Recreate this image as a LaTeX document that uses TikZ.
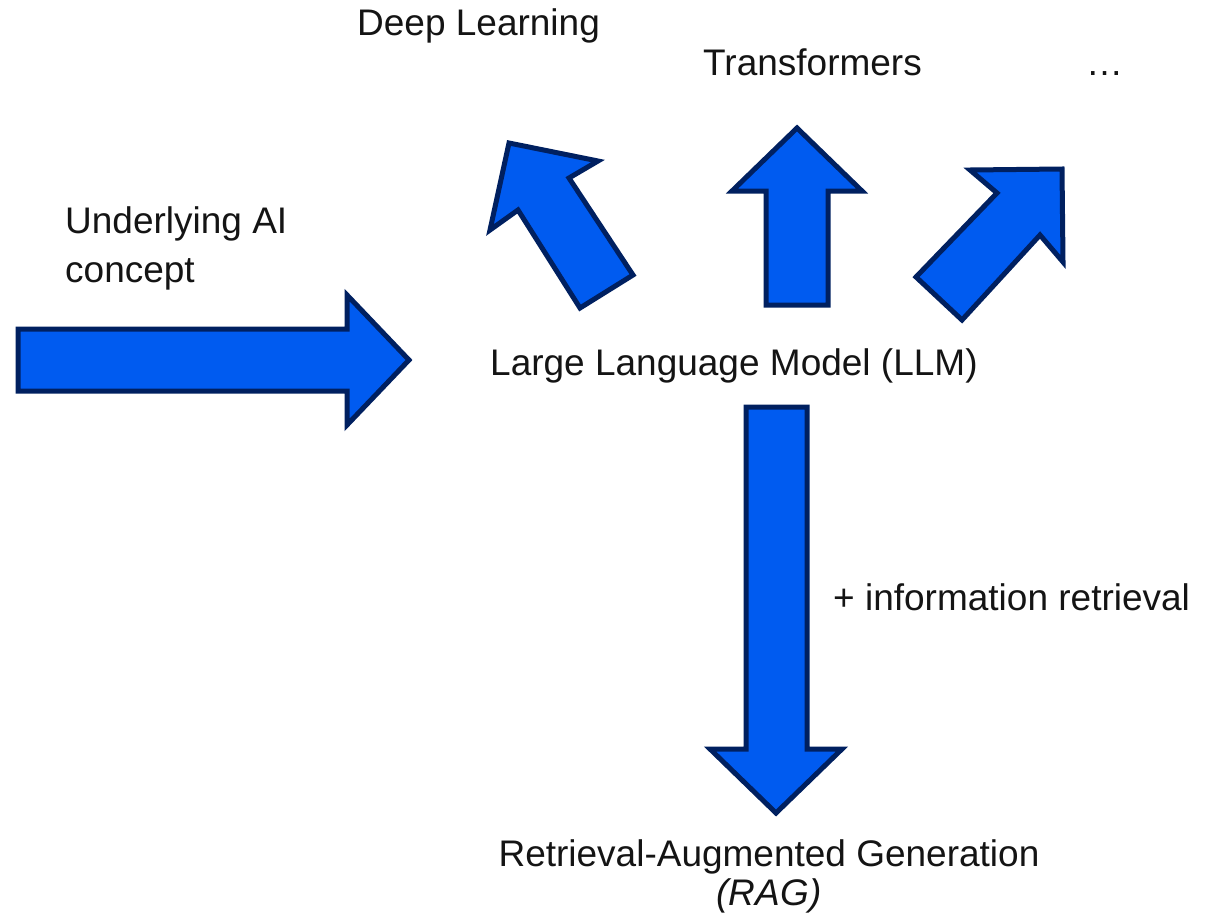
\documentclass[tikz,border=0pt]{standalone}
\usepackage{fontspec}
\setmainfont{Liberation Sans}
\definecolor{arrowfill}{RGB}{0,91,240}
\definecolor{arrowline}{RGB}{0,32,96}
\definecolor{txt}{RGB}{20,20,20}
\begin{document}
\begin{tikzpicture}[x=1pt,y=-1pt,
  bigarrow/.style={fill=arrowfill,draw=arrowline,line width=5pt,line join=miter},
  lbl/.style={inner sep=0pt,anchor=base west,font=\fontsize{37pt}{49pt}\selectfont,text=txt},
  clbl/.style={lbl,anchor=base}]
\useasboundingbox (0,0) rectangle (1222,921);
% arrows
\draw[bigarrow] (18,329) -- (347,329) -- (347,295) -- (409,360) -- (347,425) -- (347,391) -- (18,391) -- cycle;
\draw[bigarrow] (509,143) -- (598,161) -- (569,178) -- (633,275) -- (580,308) -- (518,210) -- (490,230) -- cycle;
\draw[bigarrow] (797,128) -- (862,191) -- (828,191) -- (828,305) -- (766,305) -- (766,191) -- (732,191) -- cycle;
\draw[bigarrow] (1062,169) -- (1063,262) -- (1040,235) -- (962,320) -- (916,277) -- (997,193) -- (970,170) -- cycle;
\draw[bigarrow] (746,407) -- (807,407) -- (807,749) -- (842,749) -- (776,813) -- (710,749) -- (746,749) -- cycle;
% labels
\node[lbl] (deep) at (357,35) {Deep Learning};
\node[lbl] (trans) at (703,75) {Transformers};
\node[lbl] (dots) at (1086,75) {…};
\node[lbl,align=left] (uai) at (65,282) {Underlying AI\\concept};
\node[lbl] (llm) at (490,375) {Large Language Model (LLM)};
\node[lbl] (info) at (833,610) {+ information retrieval};
\node[clbl] (rag1) at (769,866) {Retrieval-Augmented Generation};
\node[clbl] (rag2) at (769,905) {\itshape (RAG)};
\end{tikzpicture}
\end{document}
